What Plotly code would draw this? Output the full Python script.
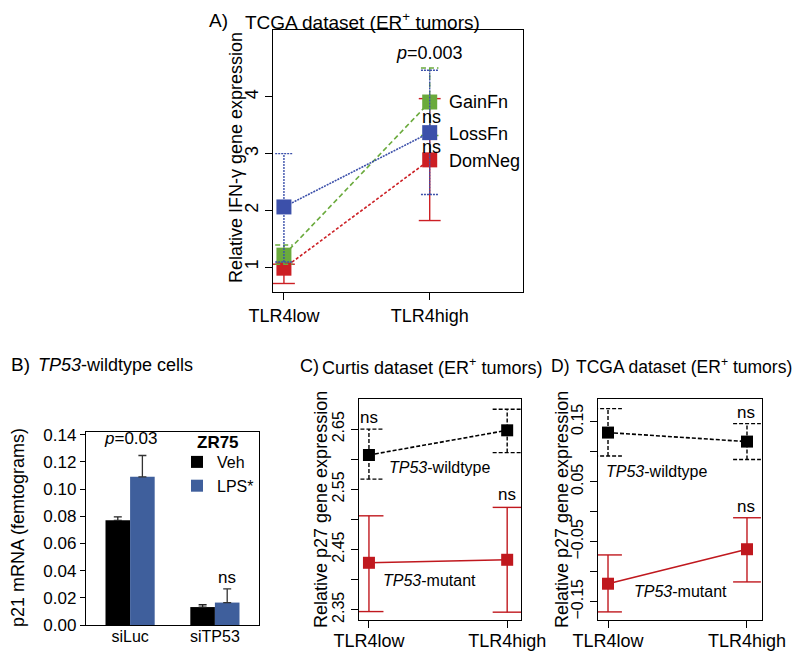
import plotly.graph_objects as go

# Panel A - TCGA dataset, IFN-gamma
cats_tlr = ["TLR4low", "TLR4high"]
xpos = [0, 1]
gain_mean = [1.21, 3.91]
gain_hi = [1.39, 4.51]
gain_lo = [1.05, 3.32]
loss_mean = [2.06, 3.37]
loss_hi = [3.00, 4.47]
loss_lo = [1.09, 2.28]
dom_mean = [0.98, 2.89]
dom_hi = [1.05, 3.97]
dom_lo = [0.71, 1.82]
a_yticks = [1, 2, 3, 4]

# Panel B - p21 mRNA bars
cats_b = ["siLuc", "siTP53"]
veh = [0.077, 0.0132]
veh_err = [0.0025, 0.0017]
lps = [0.109, 0.0165]
lps_err = [0.0157, 0.0101]
b_yticks = [0.00, 0.02, 0.04, 0.06, 0.08, 0.10, 0.12, 0.14]

# Panel C - Curtis dataset, p27
c_wt_mean = [2.607, 2.648]
c_wt_hi = [2.650, 2.683]
c_wt_lo = [2.567, 2.611]
c_mut_mean = [2.428, 2.433]
c_mut_hi = [2.506, 2.520]
c_mut_lo = [2.347, 2.346]
c_yticks = [2.35, 2.45, 2.55, 2.65]
c_yminor = [2.40, 2.50, 2.60]

# Panel D - TCGA dataset, p27
d_wt_mean = [0.132, 0.117]
d_wt_hi = [0.172, 0.147]
d_wt_lo = [0.093, 0.087]
d_mut_mean = [-0.120, -0.0625]
d_mut_hi = [-0.072, -0.010]
d_mut_lo = [-0.167, -0.117]
d_yticks = [-0.15, -0.05, 0.05, 0.15]
d_yminor = [-0.10, 0.00, 0.10]

# la pagina deja 8px de margen en el body
PAD = 8
W, H = 807, 654
FONT = "Liberation Sans, Arial, sans-serif"
GREEN = "#6aaa3c"
BLUE = "#3c50aa"
RED = "#cc1f24"
RED2 = "#c0181e"
BARBLUE = "#3f5f9c"

fig = go.Figure()


def add_series(x, mean, lo, hi, color, dash, edash, cap, msize, xa, ya):
    # barras de error como segmentos
    ex, ey = [], []
    for xi, l, h in zip(x, lo, hi):
        ex += [xi, xi, None, xi - cap, xi + cap, None, xi - cap, xi + cap, None]
        ey += [l, h, None, l, l, None, h, h, None]
    fig.add_trace(go.Scatter(x=ex, y=ey, mode="lines",
                             line=dict(color=color, width=1.4, dash=edash),
                             xaxis=xa, yaxis=ya, showlegend=False, hoverinfo="skip"))
    fig.add_trace(go.Scatter(x=x, y=mean, mode="lines+markers",
                             line=dict(color=color, width=1.6, dash=dash),
                             marker=dict(symbol="square", size=msize, color=color),
                             xaxis=xa, yaxis=ya, showlegend=False))


# Panel A
add_series(xpos, dom_mean, dom_lo, dom_hi, RED, "3px,2px", "solid", 0.075, 15, "x", "y")
add_series(xpos, gain_mean, gain_lo, gain_hi, GREEN, "5px,3px", "5px,3px", 0.06, 15, "x", "y")
add_series(xpos, loss_mean, loss_lo, loss_hi, BLUE, "2px,1px", "2px,1px", 0.06, 15, "x", "y")

# Panel B
fig.add_trace(go.Bar(x=cats_b, y=veh, name="Veh", marker=dict(color="black", line=dict(width=0)),
                     error_y=dict(type="data", symmetric=False, array=veh_err, arrayminus=[0, 0],
                                  color="#222222", thickness=1.3, width=4),
                     xaxis="x2", yaxis="y2"))
fig.add_trace(go.Bar(x=cats_b, y=lps, name="LPS*", marker=dict(color=BARBLUE, line=dict(width=0)),
                     error_y=dict(type="data", symmetric=False, array=lps_err, arrayminus=[0, 0],
                                  color="#333333", thickness=1.3, width=4),
                     xaxis="x2", yaxis="y2"))

# Panel C
add_series(xpos, c_wt_mean, c_wt_lo, c_wt_hi, "black", "4px,2px", "4px,2px", 0.105, 12, "x3", "y3")
add_series(xpos, c_mut_mean, c_mut_lo, c_mut_hi, RED2, "solid", "solid", 0.105, 12, "x3", "y3")

# Panel D
add_series(xpos, d_wt_mean, d_wt_lo, d_wt_hi, "black", "4px,2px", "4px,2px", 0.1, 12, "x4", "y4")
add_series(xpos, d_mut_mean, d_mut_lo, d_mut_hi, RED2, "solid", "solid", 0.1, 12, "x4", "y4")


def px(a):
    return (a - PAD) / W


def py(a):
    return 1 - (a - PAD) / H


def dom_x(a, b):
    return [px(a), px(b)]


def dom_y(top, bottom):
    return [py(bottom), py(top)]


box = dict(showline=True, mirror=True, linecolor="black", linewidth=1.3, showgrid=False,
           zeroline=False, ticks="outside", ticklen=7, tickcolor="black", tickwidth=1.2,
           automargin=False)
minor = dict(ticks="outside", ticklen=7, tickcolor="black", tickwidth=1.2, showgrid=False)

fig.update_layout(
    width=W, height=H,
    margin=dict(l=0, r=0, t=0, b=0, autoexpand=False),
    paper_bgcolor="white", plot_bgcolor="white",
    font=dict(family=FONT, color="black", size=18),
    barmode="group", bargap=0.42, bargroupgap=0,
    xaxis=dict(domain=dom_x(273, 523), range=[-0.075, 1.64], tickvals=xpos, ticktext=cats_tlr,
               tickfont=dict(size=18), anchor="y", **box),
    yaxis=dict(domain=dom_y(30, 292), range=[0.56, 5.18], tickvals=a_yticks, tickangle=-90,
               tickfont=dict(size=18), anchor="x", **box),
    xaxis2=dict(domain=dom_x(86, 259), range=[-0.52, 1.52], tickfont=dict(size=16),
                ticklabelstandoff=-3, anchor="y2", **dict(box, ticks="", ticklen=0)),
    yaxis2=dict(domain=dom_y(432, 625), range=[0, 0.142], tickvals=b_yticks, tickformat=".2f",
                tickfont=dict(size=17), anchor="x2", **dict(box, ticklen=5)),
    xaxis3=dict(domain=dom_x(359, 521), range=[-0.072, 1.10], tickvals=xpos, ticktext=cats_tlr,
                tickfont=dict(size=18), ticklabelstandoff=-3, anchor="y3", **box),
    yaxis3=dict(domain=dom_y(399, 620), range=[2.333, 2.70], tickvals=c_yticks,
                minor=dict(minor, tickvals=c_yminor),
                tickangle=-90, tickfont=dict(size=16), anchor="x3", **box),
    xaxis4=dict(domain=dom_x(598, 762), range=[-0.072, 1.108], tickvals=xpos, ticktext=cats_tlr,
                tickfont=dict(size=18), ticklabelstandoff=-3, anchor="y4", **box),
    yaxis4=dict(domain=dom_y(399, 620), range=[-0.1805, 0.188], tickvals=d_yticks,
                minor=dict(minor, tickvals=d_yminor),
                tickangle=-90, tickfont=dict(size=16), anchor="x4", **box),
    legend=dict(x=px(177), y=py(445), xanchor="left", yanchor="top",
                bgcolor="rgba(0,0,0,0)", font=dict(size=16),
                itemwidth=30, tracegroupgap=0),
)

ann = []


def txt(x, y, t, xref, yref, size=18, xanchor="center", **kw):
    ann.append(dict(x=x, y=y, text=t, xref=xref, yref=yref, showarrow=False,
                    font=dict(size=size), xanchor=xanchor, yanchor="middle", **kw))


# titles
txt(px(207), py(21), "A)", "paper", "paper", 19, "left")
txt(px(243), py(21), "TCGA dataset (ER<sup>+</sup> tumors)", "paper", "paper", 19, "left")
txt(px(9), py(365), "B)", "paper", "paper", 19, "left")
txt(px(36), py(365), "<i>TP53</i>-wildtype cells", "paper", "paper", 18, "left")
txt(px(298), py(366), "C)", "paper", "paper", 18, "left")
txt(px(320), py(366), "Curtis dataset (ER<sup>+</sup> tumors)", "paper", "paper", 18, "left")
txt(px(549), py(366), "D)", "paper", "paper", 17.5, "left")
txt(px(574), py(366), "TCGA dataset (ER<sup>+</sup> tumors)", "paper", "paper", 17.5, "left")

# y titles
txt(px(236), py(158), "Relative IFN-γ gene expression", "paper", "paper", 18, textangle=-90)
txt(px(18), py(528), "p21 mRNA (femtograms)", "paper", "paper", 18, textangle=-90)
txt(px(321), py(510), "Relative p27 gene expression", "paper", "paper", 18, textangle=-90)
txt(px(562), py(510), "Relative p27 gene expression", "paper", "paper", 18, textangle=-90)

# legend title
txt(px(195), py(442), "<b>ZR75</b>", "paper", "paper", 17, "left")

# panel A labels
txt(1.0, 4.78, "<i>p</i>=0.003", "x", "y", 18)
txt(1.116, 3.91, "GainFn", "x", "y", 18, "left")
txt(1.116, 3.35, "LossFn", "x", "y", 18, "left")
txt(1.116, 2.87, "DomNeg", "x", "y", 18, "left")
txt(1.01, 3.65, "ns", "x", "y", 18)
txt(1.01, 3.12, "ns", "x", "y", 18)

# panel B labels
txt(0, 0.137, "<i>p</i>=0.03", "x2", "y2", 17)
txt(1.145, 0.0347, "ns", "x2", "y2", 17)

# panel C labels
txt(0.0, 2.67, "ns", "x3", "y3", 17)
txt(0.51, 2.587, "<i>TP53</i>-wildtype", "x3", "y3", 16)
txt(1.0, 2.541, "ns", "x3", "y3", 17)
txt(0.435, 2.398, "<i>TP53</i>-mutant", "x3", "y3", 16)

# panel D labels
txt(0.99, 0.166, "ns", "x4", "y4", 17)
txt(0.35, 0.067, "<i>TP53</i>-wildtype", "x4", "y4", 16)
txt(0.99, 0.0095, "ns", "x4", "y4", 17)
txt(0.52, -0.133, "<i>TP53</i>-mutant", "x4", "y4", 16)

fig.update_layout(annotations=ann)

fig.write_html("out.html")
